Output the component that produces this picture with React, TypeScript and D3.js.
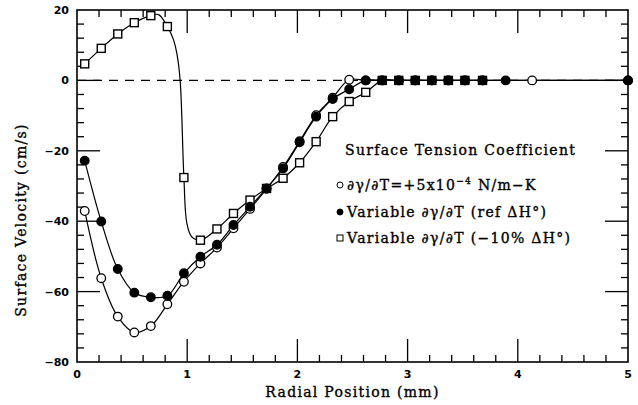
import React from "react";
import * as d3 from "d3";

// Radial positions (mm) of the computed nodes
const nodeR = [0.07, 0.22, 0.37, 0.52, 0.67, 0.82, 0.97, 1.12, 1.27, 1.42, 1.57, 1.72, 1.87, 2.02, 2.17, 2.32, 2.47, 2.62, 2.77, 2.92, 3.07, 3.22, 3.37, 3.52, 3.68];

// Constant dγ/dT = +5e-4 N/m-K (open circles)
const constR = [...nodeR, 4.13, 5.0];
const constV = [-37.1, -56.2, -67.1, -71.6, -69.8, -63.6, -57.2, -52.0, -47.5, -42.0, -36.5, -30.8, -24.6, -17.3, -9.9, -4.9, 0.2, 0, 0, 0, 0, 0, 0, 0, 0, 0, 0];

// Variable dγ/dT, reference ΔH° (filled circles)
const refR = [...nodeR, 3.89, 5.0];
const refV = [-22.8, -40.1, -53.6, -60.3, -61.6, -61.2, -54.8, -50.1, -46.7, -41.1, -35.9, -30.7, -25.0, -17.6, -10.3, -5.3, -2.5, 0, 0, 0, 0, 0, 0, 0, 0, 0, 0];

// Variable dγ/dT, -10% ΔH° (open squares)
const lowR = nodeR;
const lowV = [4.7, 9.1, 13.2, 16.4, 18.4, 15.3, -27.6, -45.4, -42.2, -37.8, -34.0, -30.7, -27.8, -23.4, -17.4, -10.3, -6.0, -3.4, 0, 0, 0, 0, 0, 0, 0];
// extra solution points of the -10% curve across the steep sign change
const lowCurveR = [0.74, 0.876, 0.906, 0.936, 0.997, 1.04];
const lowCurveV = [18.7, 11.5, 7.7, 0, -40.6, -44.4];

const xMajor = [0, 1, 2, 3, 4, 5];
const yMajor = [-80, -60, -40, -20, 0, 20];
const xMinor = d3.range(0, 5.0001, 0.2);
const yMinor = d3.range(-80, 20.0001, 4);

const W = 638;
const H = 405;
const L = 77, R = 628, T = 10, B = 362;

const x = d3.scaleLinear().domain([0, 5]).range([L, R]);
const y = d3.scaleLinear().domain([-80, 20]).range([B, T]);

type P = [number, number];
const zip = (a: number[], b: number[]): P[] => a.map((v, i) => [v, b[i]] as P);

const line = d3
  .line<P>()
  .x((d) => x(d[0]))
  .y((d) => y(d[1]))
  .curve(d3.curveCatmullRom.alpha(0.5));

const constPts = zip(constR, constV);
const refPts = zip(refR, refV);
const lowPts = zip(lowR, lowV);
const lowCurve = [...lowPts, ...zip(lowCurveR, lowCurveV)].sort((a, b) => a[0] - b[0]);

const serif = "'DejaVu Serif', serif";
const sans = "'DejaVu Sans', sans-serif";

function Ticks() {
  const els: React.ReactElement[] = [];
  const MAJ = 23, MIN = 7;
  xMinor.forEach((v, i) => {
    const isMaj = Math.abs(v - Math.round(v)) < 1e-6;
    const len = isMaj ? MAJ : MIN;
    if (v <= 0 || v >= 5) return;
    els.push(<line key={`xt${i}`} x1={x(v)} x2={x(v)} y1={T} y2={T + len} />);
    els.push(<line key={`xb${i}`} x1={x(v)} x2={x(v)} y1={B} y2={B - len} />);
  });
  yMinor.forEach((v, i) => {
    const isMaj = Math.abs(v % 20) < 1e-6;
    const len = isMaj ? MAJ : MIN;
    if (v <= -80 || v >= 20) return;
    els.push(<line key={`yl${i}`} x1={L} x2={L + len} y1={y(v)} y2={y(v)} />);
    els.push(<line key={`yr${i}`} x1={R} x2={R - len} y1={y(v)} y2={y(v)} />);
  });
  return (
    <g stroke="#000" strokeWidth={1.3}>
      {els}
    </g>
  );
}

function Circle({ p, filled }: { p: P; filled: boolean }) {
  return (
    <circle
      cx={x(p[0])}
      cy={y(p[1])}
      r={4.3}
      fill={filled ? "#000" : "#fff"}
      stroke="#000"
      strokeWidth={1.3}
    />
  );
}

function Square({ p }: { p: P }) {
  const s = 8;
  return (
    <rect
      x={x(p[0]) - s / 2}
      y={y(p[1]) - s / 2}
      width={s}
      height={s}
      fill="#fff"
      stroke="#000"
      strokeWidth={1.4}
    />
  );
}

export default function App() {
  const legendX = 340;
  const legendRows = [185, 212, 238];
  const textStyle = {
    fontFamily: serif,
    fontSize: 14,
    fill: "#000",
    letterSpacing: 1.3,
    stroke: "#000",
    strokeWidth: 0.35,
  };
  return (
    <svg
      width={W}
      height={H}
      style={{ position: "absolute", left: 0, top: 0, background: "#fff" }}
    >
      <rect x={0} y={0} width={W} height={H} fill="#fff" />
      {/* zero reference */}
      <line
        x1={L}
        x2={R}
        y1={y(0)}
        y2={y(0)}
        stroke="#000"
        strokeWidth={1.2}
        strokeDasharray="9,7"
      />
      <Ticks />
      <rect x={L} y={T} width={R - L} height={B - T} fill="none" stroke="#000" strokeWidth={1.6} />

      {/* curves */}
      <g fill="none" stroke="#000" strokeWidth={1.2}>
        <path d={line(constPts) || ""} />
        <path d={line(lowCurve) || ""} />
        <path d={line(refPts) || ""} />
      </g>

      {/* markers */}
      {constPts.map((p, i) => (
        <Circle key={`c${i}`} p={p} filled={false} />
      ))}
      {lowPts.map((p, i) => (
        <Square key={`s${i}`} p={p} />
      ))}
      {refPts.map((p, i) => (
        <Circle key={`f${i}`} p={p} filled={true} />
      ))}

      {/* tick labels */}
      <g fontFamily={sans} fontWeight="bold" fontSize={11} fill="#000">
        {xMajor.map((v) => (
          <text key={`xl${v}`} x={x(v)} y={B + 16} textAnchor="middle">
            {v}
          </text>
        ))}
        {yMajor.map((v) => (
          <text key={`yl${v}`} x={L - 8} y={y(v) + 4} textAnchor="end">
            {v === 0 ? "0" : v < 0 ? `\u2212${-v}` : v}
          </text>
        ))}
      </g>

      {/* axis titles */}
      <g style={textStyle}>
        <text x={(L + R) / 2} y={397} textAnchor="middle">
          Radial Position (mm)
        </text>
        <text transform={`translate(26,${220}) rotate(-90)`} textAnchor="middle">
          Surface Velocity (cm/s)
        </text>
      </g>

      {/* legend */}
      <g style={textStyle}>
        <text x={345} y={155}>
          Surface Tension Coefficient
        </text>
        <text x={347} y={legendRows[0] + 5}>
          {"\u2202\u03b3/\u2202T=+5x10"}
          <tspan fontSize={9} dy={-6}>
            {"\u22124"}
          </tspan>
          <tspan dy={6}>{" N/m\u2212K"}</tspan>
        </text>
        <text x={347} y={legendRows[1] + 5}>
          {"Variable \u2202\u03b3/\u2202T (ref \u0394H\u00b0)"}
        </text>
        <text x={347} y={legendRows[2] + 5}>
          {"Variable \u2202\u03b3/\u2202T (\u221210% \u0394H\u00b0)"}
        </text>
      </g>
      <circle cx={legendX} cy={legendRows[0]} r={3} fill="#fff" stroke="#000" strokeWidth={1} />
      <circle cx={legendX} cy={legendRows[1]} r={3} fill="#000" stroke="#000" strokeWidth={1} />
      <rect x={legendX - 3} y={legendRows[2] - 3} width={6} height={6} fill="#fff" stroke="#000" strokeWidth={1} />
    </svg>
  );
}
